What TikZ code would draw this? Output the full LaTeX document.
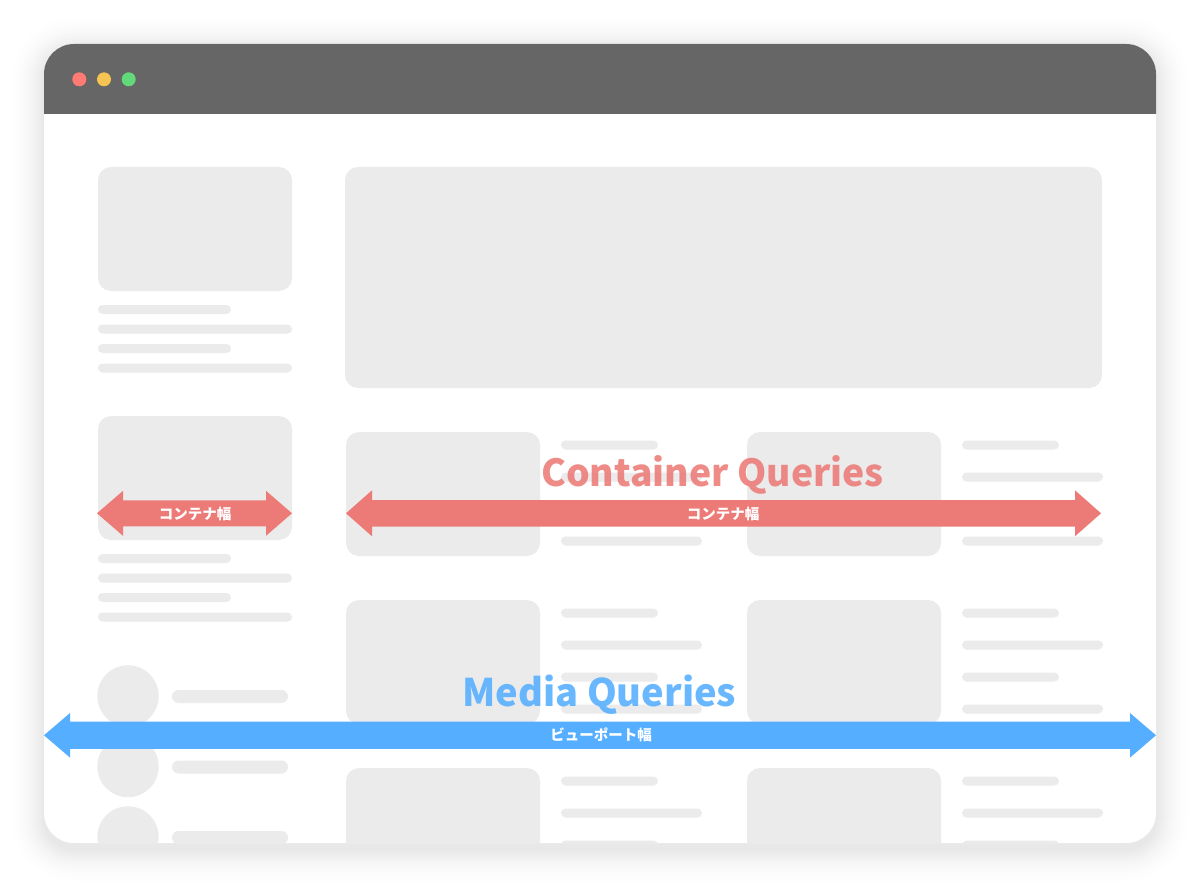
\documentclass[tikz,border=0pt]{standalone}
\usepackage{fontspec}
\newfontfamily\jp{Noto Sans CJK JP}

\definecolor{barcol}{HTML}{666666}
\definecolor{blk}{HTML}{EBEBEB}
\definecolor{redarr}{HTML}{EC7B77}
\definecolor{bluearr}{HTML}{55AEFF}
\definecolor{dotr}{HTML}{FF7B73}
\definecolor{doty}{HTML}{F5C452}
\definecolor{dotg}{HTML}{62DA7A}

% a double-headed block arrow: left tip, right tip, centre line, shaft half height, head half height
\newcommand\blockarrow[6]{%
  \fill[#6] (#1,#3) -- (#1+26,#3-#5) -- (#1+26,#3-#4) -- (#2-26,#3-#4)
    -- (#2-26,#3-#5) -- (#2,#3) -- (#2-26,#3+#5) -- (#2-26,#3+#4)
    -- (#1+26,#3+#4) -- (#1+26,#3+#5) -- cycle;}
% a rounded placeholder text line
\newcommand\placeline[4]{\fill[blk, rounded corners=#4*0.5pt] (#1,#3-#4/2) rectangle (#2,#3+#4/2);}
% a placeholder card
\newcommand\placecard[4]{\fill[blk, rounded corners=13pt] (#1,#2) rectangle (#3,#4);}

\tikzset{
  heading/.style={inner sep=0pt, anchor=base west, text opacity=0.88},
  arrowlabel/.style={inner sep=0pt, anchor=base, text=white, font=\jp\bfseries\fontsize{14.5}{16}\selectfont},
}

\begin{document}
\begin{tikzpicture}[x=1pt,y=-1pt]
\useasboundingbox (0,0) rectangle (1200,888);

% soft shadow: nested rounded outlines, darkening towards the window
\foreach \i [evaluate=\i as \r using 30+\i,
             evaluate=\i as \p using 9*((37-\i)/36)^2] in {36,35,...,1} {
  \fill[black!\p!white, rounded corners=\r pt]
    (44-\i,50-\i) rectangle (1156+\i,849+\i);
}

% window body
\fill[white, rounded corners=30pt] (44,44) rectangle (1156,843);

\begin{scope}
  \clip[rounded corners=30pt] (44,44) rectangle (1156,843);
  % title bar
  \fill[barcol] (44,40) rectangle (1160,114);
  \fill[dotr] (79.3,79.3) circle[radius=7pt];
  \fill[doty] (104,79.3) circle[radius=7pt];
  \fill[dotg] (128.7,79.3) circle[radius=7pt];

  % left column
  \placecard{98}{167}{292}{291}
  \placeline{98}{231}{309.5}{9}
  \placeline{98}{292}{329}{9}
  \placeline{98}{231}{348.5}{9}
  \placeline{98}{292}{368}{9}
  \placecard{98}{416}{292}{540}
  \placeline{98}{231}{558.5}{9}
  \placeline{98}{292}{578}{9}
  \placeline{98}{231}{597.5}{9}
  \placeline{98}{292}{617}{9}
  \foreach \cy in {696,766.5,837} {
    \fill[blk] (128,\cy) circle[radius=30.7pt];
    \placeline{172}{288}{\cy+0.5}{13}
  }

  % main hero block
  \placecard{345}{167}{1102}{388}

  % grid of cards with their text lines
  \foreach \top in {432,600,768} {
    \foreach \cx in {346,747} {
      \placecard{\cx}{\top}{\cx+194}{\top+124}
      \placeline{\cx+215}{\cx+312}{\top+13}{9}
      \placeline{\cx+215}{\cx+356}{\top+45}{9}
      \placeline{\cx+215}{\cx+312}{\top+77}{9}
      \placeline{\cx+215}{\cx+356}{\top+109}{9}
    }
  }
\end{scope}

% headings
\node[heading, text=redarr, font=\jp\bfseries\fontsize{37.3}{42}\selectfont] (cq) at (541,486.7) {Container Queries};
\node[heading, text=bluearr, font=\jp\bfseries\fontsize{38}{42}\selectfont] (mq) at (462,706.7) {Media Queries};

% width arrows
\blockarrow{97}{292}{513.3}{13}{22.5}{redarr}
\blockarrow{346}{1101}{513.3}{13.3}{23}{redarr}
\blockarrow{44}{1156}{735.3}{13.6}{22.3}{bluearr}

\node[arrowlabel] (lw1) at (195,519) {コンテナ幅};
\node[arrowlabel] (lw2) at (723,519) {コンテナ幅};
\node[arrowlabel] (lvw) at (601,740.7) {ビューポート幅};
\end{tikzpicture}
\end{document}
